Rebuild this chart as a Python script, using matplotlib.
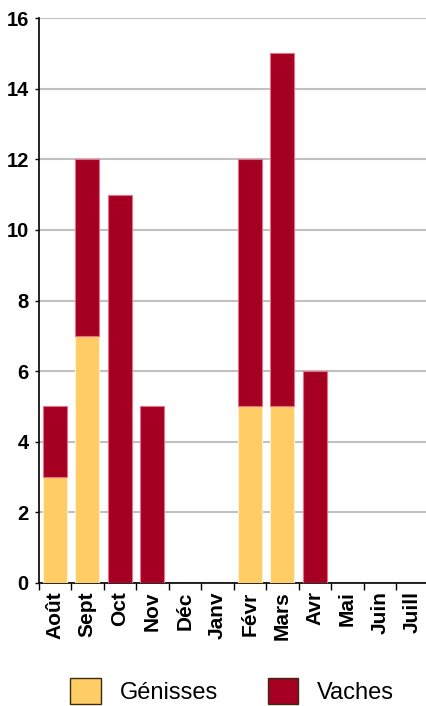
import numpy as np
import matplotlib.pyplot as plt
from matplotlib.ticker import FixedLocator

# Дані: кількість голів по місяцях
months = ['Août', 'Sept', 'Oct', 'Nov', 'Déc', 'Janv',
          'Févr', 'Mars', 'Avr', 'Mai', 'Juin', 'Juill']
genisses = [3, 7, 0, 0, 0, 0, 5, 5, 0, 0, 0, 0]
vaches = [2, 5, 11, 5, 0, 0, 7, 10, 6, 0, 0, 0]

col_gen = '#ffcc66'
col_vac = '#a50021'

plt.rcParams['font.family'] = ['Liberation Sans', 'DejaVu Sans']

fig = plt.figure(figsize=(4.26, 7.06), dpi=100)
ax = fig.add_axes([38.5 / 426, 123 / 706, 1 - 38.5 / 426, 565 / 706])

x = np.arange(len(months))
gen = np.array(genisses)
vac = np.array(vaches)

# нульові значення не малюємо, щоб не було ліній по осі
m_gen = gen > 0
m_vac = vac > 0
ax.bar(x[m_gen], gen[m_gen], width=0.74, color=col_gen, edgecolor='#fff2cc',
       linewidth=0.8, label='Génisses', zorder=3)
ax.bar(x[m_vac], vac[m_vac], width=0.74, bottom=gen[m_vac], color=col_vac,
       edgecolor='#e8708a', linewidth=0.8, label='Vaches', zorder=3)

ax.set_ylim(0, 16)
ax.set_yticks(range(0, 17, 2))
ax.set_xlim(-0.5, 11.42)
ax.set_xticks(x)
ax.set_xticklabels(months, rotation=90, fontsize=15, fontweight='bold')
ax.xaxis.set_minor_locator(FixedLocator(np.arange(-0.5, 12, 1)))
ax.tick_params(axis='x', which='major', length=0, pad=6)
ax.tick_params(axis='x', which='minor', length=5, width=1, direction='out')
ax.tick_params(axis='y', length=3, width=1, labelsize=14.5, pad=4)
for lbl in ax.get_yticklabels():
    lbl.set_fontweight('bold')

ax.grid(axis='y', color='#c0c0c0', linewidth=1.5, zorder=0)
ax.spines['top'].set_visible(False)
ax.spines['right'].set_visible(False)
ax.spines['left'].set_linewidth(1.2)
ax.spines['bottom'].set_linewidth(1.2)

handles, labels = ax.get_legend_handles_labels()
leg = fig.legend(handles, labels, loc='center', bbox_to_anchor=(0.545, 15 / 706),
                 ncol=2, frameon=False, fontsize=17, handlelength=1.3,
                 handleheight=1.3, handletextpad=0.8, columnspacing=2.1)
for h in leg.legend_handles:
    h.set_edgecolor('#3a2a10')
    h.set_linewidth(1.0)

fig.savefig('out.png', dpi=100)
